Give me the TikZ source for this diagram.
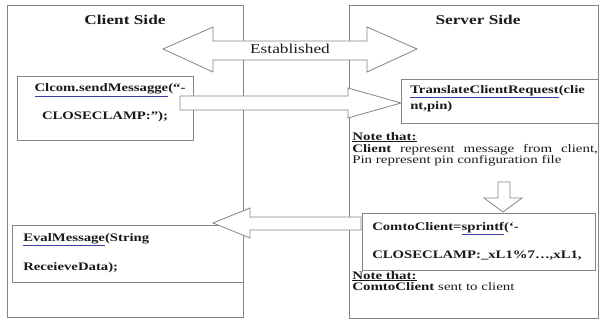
\documentclass[tikz,border=0pt]{standalone}
\usepackage{fontspec}
\setmainfont{Liberation Serif}
\usetikzlibrary{positioning}
\definecolor{csink}{HTML}{1A1A1A}
\definecolor{csline}{HTML}{858585}
\definecolor{cslink}{HTML}{3B3FA8}
\newcommand{\csul}[1]{\textcolor{cslink}{\underline{\textcolor{csink}{#1}}}}
\tikzset{
  csside/.style={draw=csline, line width=0.9pt},
  csbox/.style={draw=csline, line width=0.9pt, fill=white},
  csarrow/.style={draw=csline, line width=0.8pt, fill=white, line join=miter},
  cstitle/.style={font=\fontsize{13.5}{15}\selectfont\bfseries, text=csink, xscale=1.28, inner sep=0pt},
  cslabel/.style={font=\fontsize{13.5}{15}\selectfont, text=csink, xscale=1.28, inner sep=0pt},
  cscode/.style={font=\fontsize{11.5}{14}\selectfont\bfseries, text=csink, xscale=1.28, inner sep=0pt, anchor=base west},
  csnote/.style={font=\fontsize{11.5}{11.5}\selectfont, text=csink, xscale=1.3, inner sep=0pt},
}
\begin{document}
\begin{tikzpicture}[x=1pt,y=-1pt]
  \useasboundingbox (0,0) rectangle (603,329);
  % the two sides
  \node[csside, minimum width=236pt, minimum height=312pt, anchor=north west] (client) at (7,5) {};
  \node[csside, minimum width=249pt, minimum height=313pt, anchor=north west] (server) at (349,5) {};
  \node[cstitle] (clienttitle) at (125,20) {Client Side};
  \node[cstitle] (servertitle) at (478,20) {Server Side};
  % boxes
  \node[csbox, minimum width=176pt, minimum height=64pt, anchor=north west] (clcom) at (17,76) {};
  \node[csbox, minimum width=197pt, minimum height=44pt, anchor=north west] (translate) at (401,79) {};
  \node[csbox, minimum width=233pt, minimum height=57pt, anchor=north west] (comto) at (362,213) {};
  \node[csbox, minimum width=231pt, minimum height=57pt, anchor=north west] (eval) at (12,225) {};
  % block arrows
  \draw[csarrow] (163,49) -- (213,27) -- (213,41) -- (367,41) -- (367,27) -- (417,49)
    -- (367,72) -- (367,60) -- (213,60) -- (213,72) -- cycle;
  \draw[csarrow] (401,103) -- (348,88) -- (348,96) -- (180,96) -- (180,110) -- (348,110)
    -- (348,118) -- cycle;
  \draw[csarrow] (213,223) -- (250,208) -- (250,217) -- (361,217) -- (361,230) -- (250,230)
    -- (250,238) -- cycle;
  \draw[csarrow] (498,182) -- (510,182) -- (510,198) -- (522,198) -- (503,212) -- (484,198)
    -- (498,198) -- cycle;
  \node[cslabel] (established) at (290,49) {Established};
  % texts
  \node[cscode, anchor=base] (clcom1) at (110,92) {\csul{Clcom.sendMessagge}(“-};
  \node[cscode, anchor=base] (clcom2) at (105,120) {CLOSECLAMP:”);};
  \node[cscode] (translate1) at (410,93) {\csul{TranslateClientRequest}(clie};
  \node[cscode] (translate2) at (410,110) {nt,pin)};
  \node[cscode] (comto1) at (372,230) {ComtoClient=\csul{sprintf}(‘-};
  \node[cscode] (comto2) at (372,258) {CLOSECLAMP:\_xL1\%7…,xL1,};
  \node[cscode] (eval1) at (23,241) {\csul{EvalMessage}(String};
  \node[cscode] (eval2) at (23,270) {ReceieveData);};
  % notes
  \node[csnote, anchor=base west] (note1) at (352,140) {\textbf{\underline{Note that:}}};
  \node[csnote, anchor=north west, text width=189pt, align=justify] (note1text) at (352,144)
    {\textbf{Client} represent message from client,\linebreak Pin represent pin configuration file};
  \node[csnote, anchor=base west] (note2) at (352,279) {\textbf{\underline{Note that:}}};
  \node[csnote, anchor=base west] (note2text) at (352,290) {\textbf{ComtoClient} sent to client};
\end{tikzpicture}
\end{document}
